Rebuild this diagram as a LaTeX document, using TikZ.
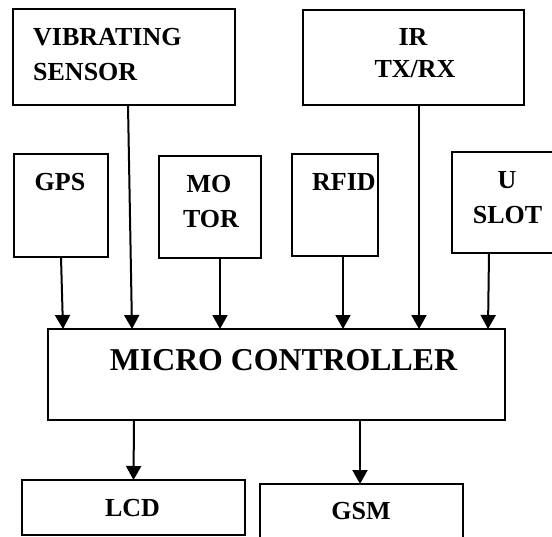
\documentclass[tikz,border=0pt]{standalone}
\usepackage{fontspec}
\setmainfont{Liberation Serif}
\usetikzlibrary{arrows.meta}
\begin{document}
\begin{tikzpicture}[x=1pt,y=-1pt,
  box/.style={draw, line width=1.3pt, rectangle, inner sep=0pt, outer sep=0pt},
  lbl/.style={font=\fontsize{26}{26}\selectfont\bfseries, inner sep=0pt, anchor=base},
  big/.style={font=\fontsize{31.8}{32}\selectfont\bfseries, inner sep=0pt, anchor=base},
  conn/.style={line width=2pt, -{Triangle[length=14pt,width=15pt]}}]
\clip (0,0) rectangle (552,536);
\fill[white] (0,0) rectangle (552,536);
% boxes
\node[box, minimum width=222pt, minimum height=96pt] (vib) at (124,57) {};
\node[box, minimum width=221pt, minimum height=95pt] (ir) at (413.5,57.5) {};
\node[box, minimum width=94pt, minimum height=103pt] (gps) at (61,205.5) {};
\node[box, minimum width=102pt, minimum height=102pt] (motor) at (210,207) {};
\node[box, minimum width=86pt, minimum height=102pt] (rfid) at (335,205) {};
\node[box, minimum width=110pt, minimum height=101pt] (uslot) at (507,202.5) {};
\node[box, minimum width=457pt, minimum height=91pt] (mc) at (276.5,374.5) {};
\node[box, minimum width=223pt, minimum height=55pt] (lcd) at (133.5,507.5) {};
\node[box, minimum width=203pt, minimum height=61pt] (gsm) at (361.5,514.5) {};
% labels
\node[lbl, anchor=base west] (t1) at (33,45) {VIBRATING};
\node[lbl, anchor=base west] (t2) at (33,80) {SENSOR};
\node[lbl] (t3) at (413,45) {IR};
\node[lbl] (t4) at (415,77) {TX/RX};
\node[lbl] (t5) at (60,190) {GPS};
\node[lbl] (t6) at (209,192) {MO};
\node[lbl] (t7) at (211,227) {TOR};
\node[lbl, anchor=base west] (t8) at (312,190) {RFID};
\node[lbl] (t9) at (507,188) {U};
\node[lbl] (t10) at (507.5,223) {SLOT};
\node[big] (t11) at (283.5,370) {MICRO CONTROLLER};
\node[lbl] (t12) at (132.5,516) {LCD};
\node[lbl] (t13) at (361,519) {GSM};
% connectors
\draw[conn] (gps.south) -- ([xshift=-213.5pt]mc.north);
\draw[conn] ([xshift=4pt]vib.south) -- ([xshift=-144.5pt]mc.north);
\draw[conn] ([xshift=10pt]motor.south) -- ([xshift=-56.5pt]mc.north);
\draw[conn] ([xshift=8pt]rfid.south) -- ([xshift=66.5pt]mc.north);
\draw[conn] ([xshift=5.5pt]ir.south) -- ([xshift=142.5pt]mc.north);
\draw[conn] ([xshift=-18pt]uslot.south) -- ([xshift=211.5pt]mc.north);
\draw[conn] ([xshift=-142.5pt]mc.south) -- (lcd.north);
\draw[conn] ([xshift=83.5pt]mc.south) -- ([xshift=-1.5pt]gsm.north);
\end{tikzpicture}
\end{document}
